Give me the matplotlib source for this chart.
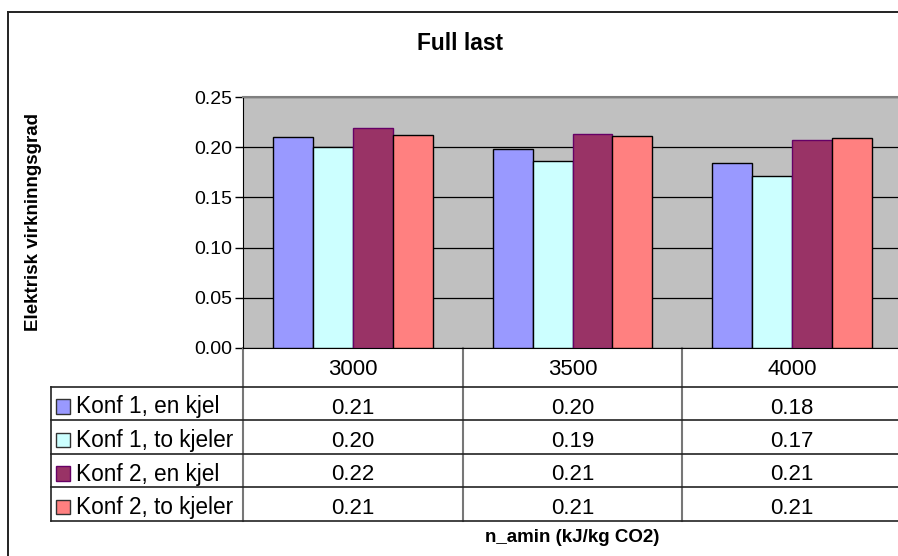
import matplotlib
matplotlib.use("Agg")
import matplotlib.pyplot as plt
import matplotlib.transforms as mtransforms
from matplotlib.lines import Line2D
from matplotlib.patches import Rectangle
import numpy as np

# data
categories = ["3000", "3500", "4000"]
seriesNames = ["Konf 1, en kjel", "Konf 1, to kjeler", "Konf 2, en kjel", "Konf 2, to kjeler"]
konf1EnKjel = [0.210, 0.198, 0.184]
konf1ToKjeler = [0.200, 0.186, 0.171]
konf2EnKjel = [0.219, 0.213, 0.207]
konf2ToKjeler = [0.212, 0.211, 0.209]
yTicks = [0.00, 0.05, 0.10, 0.15, 0.20, 0.25]

W, H = 898, 556
FONT = "Liberation Sans"


def fx(px: float) -> float:
    return px / W


def fy(py: float) -> float:
    return (H - py) / H


def main() -> None:
    vSeries = [konf1EnKjel, konf1ToKjeler, konf2EnKjel, konf2ToKjeler]
    faceColors = ["#9999FF", "#CCFFFF", "#993366", "#FF8080"]
    edgeColors = ["#000000", "#000000", "#660066", "#000000"]

    fig = plt.figure(figsize=(W / 100, H / 100), dpi=100)
    plt.rcParams["font.family"] = [FONT, "DejaVu Sans"]

    # outer chart frame (right and bottom edges fall outside the picture)
    fig.add_artist(Line2D([fx(8), fx(8)], [fy(12), fy(H + 10)], color="#222222", lw=1.4))
    fig.add_artist(Line2D([fx(8), fx(W + 10)], [fy(12), fy(12)], color="#222222", lw=1.4))

    axLeft, axRight, axTop, axBottom = 243, 902, 97, 348
    ax = fig.add_axes([fx(axLeft), fy(axBottom), fx(axRight - axLeft), (axBottom - axTop) / H])
    ax.set_facecolor("#C0C0C0")

    x = np.arange(len(categories))
    width = 40 / 220
    for i, (values, fc, ec) in enumerate(zip(vSeries, faceColors, edgeColors)):
        ax.bar(x + (i - 1.5) * width, values, width, color=fc, edgecolor=ec, linewidth=1.0, zorder=3)

    ax.set_xlim(-0.5, len(categories) - 0.5)
    ax.set_ylim(0, 0.25)
    ax.set_yticks(yTicks)
    ax.set_yticklabels([f"{t:.2f}" for t in yTicks], fontsize=14)
    ax.set_xticks([])
    ax.tick_params(axis="y", length=6, width=1, pad=2, color="black")
    ax.yaxis.grid(True, color="black", lw=0.9)
    ax.set_axisbelow(True)
    ax.spines["top"].set_color("#808080")
    ax.spines["top"].set_linewidth(1.5)
    ax.spines["right"].set_visible(False)
    ax.spines["left"].set_color("black")
    ax.spines["bottom"].set_color("black")

    # data table under the plot
    trans = mtransforms.blended_transform_factory(ax.transData, fig.transFigure)
    rowLines = [387, 420, 453.5, 487, 521]
    tableLeft = 50.5
    for py in rowLines:
        fig.add_artist(Line2D([fx(tableLeft), fx(W + 10)], [fy(py), fy(py)], color="#222222", lw=1.2))
    fig.add_artist(Line2D([fx(tableLeft), fx(tableLeft)], [fy(rowLines[0]), fy(rowLines[-1])],
                          color="#222222", lw=1.2))
    for i in range(len(categories)):
        ax.add_artist(Line2D([i - 0.5, i - 0.5], [fy(axBottom), fy(rowLines[-1])], transform=trans,
                             color="#777777", lw=1.5, clip_on=False))

    for i, cat in enumerate(categories):
        fig.text(i, fy(375), cat, transform=trans, ha="center", va="baseline", fontsize=16)

    for r, (name, values, fc, ec) in enumerate(zip(seriesNames, vSeries, faceColors, edgeColors)):
        baseline = 413.5 + r * 33.5
        fig.add_artist(Rectangle((fx(55.5), fy(baseline)), fx(14.5), 14.5 / H,
                                 facecolor=fc, edgecolor="#333333" if ec == "#000000" else ec, lw=1.0))
        fig.text(fx(76.5), fy(baseline), name, ha="left", va="baseline", fontsize=16.3)
        for i, v in enumerate(values):
            fig.text(i, fy(baseline), f"{v:.2f}", transform=trans, ha="center", va="baseline", fontsize=16)

    fig.text(fx(460), fy(43), "Full last", ha="center", va="center", fontsize=16.4, fontweight="bold")
    fig.text(fx(34), fy(222), "Elektrisk virkninngsgrad", ha="center", va="center", rotation=90,
             fontsize=13.5, fontweight="bold")
    fig.text(fx(572), fy(538), "n_amin (kJ/kg CO2)", ha="center", va="center", fontsize=13.5,
             fontweight="bold")

    fig.savefig("out.png", dpi=100)


if __name__ == "__main__":
    main()
